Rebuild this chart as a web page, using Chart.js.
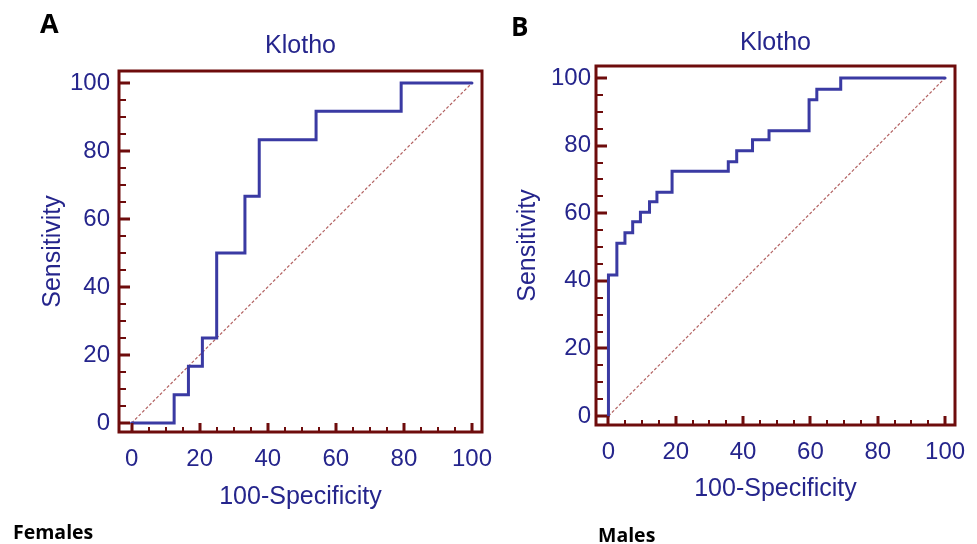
<!DOCTYPE html>
<html>
<head>
<meta charset="utf-8">
<script src="https://cdn.jsdelivr.net/npm/chart.js@4.4.1/dist/chart.umd.min.js"></script>
<style>
  html, body { margin: 0; padding: 0; background: #fff; }
  #page { position: relative; width: 977px; height: 544px; overflow: hidden; }
  canvas { position: absolute; top: 0; }
  .tag { position: absolute; font-family: 'Open Sans', sans-serif; font-weight: bold; color: #000; line-height: 1; white-space: nowrap; }
</style>
</head>
<body>
<div id="page">
  <canvas id="rocA" width="510" height="544" style="left:0"></canvas>
  <canvas id="rocB" width="489" height="544" style="left:488px"></canvas>
  <div class="tag" style="left:40px; top:9px; font-size:27px">A</div>
  <div class="tag" style="left:511px; top:13px; font-size:26px">B</div>
  <div class="tag" style="left:13px; top:522px; font-size:19.5px">Females</div>
  <div class="tag" style="left:598px; top:525px; font-size:19.5px">Males</div>
</div>
<script>
// Data (ROC operating points, in %)
const femalesFpr  = [0, 12.5, 16.7, 20.8, 25, 33.3, 37.5, 54.2, 79.2, 100];
const femalesSens = [0, 8.3, 16.7, 25, 50, 66.7, 83.3, 91.7, 100, 100];

const malesFpr  = [0, 0, 2.5, 4.9, 7.2, 9.5, 12.2, 14.4, 18.9, 35.6, 38.1, 42.8, 47.7, 59.6, 61.9, 69.0, 100];
const malesSens = [0, 41.7, 51.1, 54.2, 57.5, 60.3, 63.4, 66.2, 72.4, 75.2, 78.5, 81.7, 84.4, 93.6, 96.7, 100, 100];

const diagX = [0, 100];
const diagY = [0, 100];

const tickValues = [0, 20, 40, 60, 80, 100];
const chartTitle = 'Klotho';
const xTitle = '100-Specificity';
const yTitle = 'Sensitivity';

const TEXT_COLOR = '#25258c';
const CURVE_COLOR = '#3a3aa3';
const FRAME_COLOR = '#6e0c0c';
const DIAG_COLOR = 'rgba(170, 80, 80, 0.9)';

Chart.defaults.font.family = "'Liberation Sans', Arial, sans-serif";

// Box round the plot area with ticks pointing inwards (every 5, long at 20s)
const framePlugin = {
    id: 'frame',
    afterDraw(chart) {
        const { ctx, chartArea: a } = chart;
        const x = chart.scales.x, y = chart.scales.y;
        ctx.save();
        ctx.strokeStyle = FRAME_COLOR;
        ctx.lineWidth = 3;
        ctx.strokeRect(a.left, a.top, a.right - a.left, a.bottom - a.top);
        for (let v = 0; v <= 100; v += 5) {
            const major = tickValues.includes(v);
            ctx.lineWidth = major ? 3 : 2;
            ctx.beginPath();
            const py = Math.round(y.getPixelForValue(v));
            ctx.moveTo(a.left, py);
            ctx.lineTo(a.left + (major ? 11 : 7), py);
            const px = Math.round(x.getPixelForValue(v));
            ctx.moveTo(px, a.bottom);
            ctx.lineTo(px, a.bottom - (major ? 9 : 5));
            ctx.stroke();
        }
        ctx.restore();
    }
};

function makeRoc(canvasId, fpr, sens, lay) {
    const ctx = document.getElementById(canvasId).getContext('2d');
    return new Chart(ctx, {
        type: 'line',
        data: {
            datasets: [
                {
                    data: fpr.map((v, i) => ({ x: v, y: sens[i] })),
                    borderColor: CURVE_COLOR,
                    borderWidth: 3,
                    borderCapStyle: 'round',
                    pointRadius: 0,
                    stepped: 'before',
                    fill: false
                },
                {
                    data: diagX.map((v, i) => ({ x: v, y: diagY[i] })),
                    borderColor: DIAG_COLOR,
                    borderWidth: 1.2,
                    borderDash: [3, 2],
                    pointRadius: 0,
                    fill: false
                }
            ]
        },
        options: {
            responsive: false,
            animation: false,
            events: [],
            layout: { padding: lay.padding },
            plugins: {
                legend: { display: false },
                tooltip: { enabled: false },
                title: {
                    display: true,
                    text: chartTitle,
                    fullSize: false,
                    color: TEXT_COLOR,
                    font: { size: 25, weight: 'normal' },
                    padding: { top: 0, bottom: lay.titleGap }
                }
            },
            scales: {
                x: {
                    type: 'linear',
                    min: -3.7,
                    max: 102.95,
                    afterBuildTicks: s => { s.ticks = tickValues.map(v => ({ value: v })); },
                    afterFit: s => { s.height = lay.xHeight; s.paddingLeft = 0; s.paddingRight = 0; },
                    grid: { display: false, drawTicks: false },
                    border: { display: false },
                    ticks: { color: TEXT_COLOR, font: { size: 24 }, padding: 13, maxRotation: 0, autoSkip: false },
                    title: { display: true, text: xTitle, color: TEXT_COLOR, font: { size: 25 }, padding: 0 }
                },
                y: {
                    type: 'linear',
                    min: -2.65,
                    max: 103.55,
                    afterBuildTicks: s => { s.ticks = tickValues.map(v => ({ value: v })); },
                    afterFit: s => { s.width = lay.yWidth; },
                    grid: { display: false, drawTicks: false },
                    border: { display: false },
                    ticks: { color: TEXT_COLOR, font: { size: 24 }, padding: lay.yPad, autoSkip: false },
                    title: { display: true, text: yTitle, color: TEXT_COLOR, font: { size: 25 }, padding: 0 }
                }
            }
        },
        plugins: [framePlugin]
    });
}

makeRoc('rocA', femalesFpr, femalesSens, {
    padding: { left: 38, right: 28, top: 31, bottom: 32 },
    titleGap: 10, xHeight: 80, yWidth: 81, yPad: 9
});
makeRoc('rocB', malesFpr, malesSens, {
    padding: { left: 25, right: 22, top: 28, bottom: 40 },
    titleGap: 8, xHeight: 79, yWidth: 83, yPad: 5
});
</script>
</body>
</html>
